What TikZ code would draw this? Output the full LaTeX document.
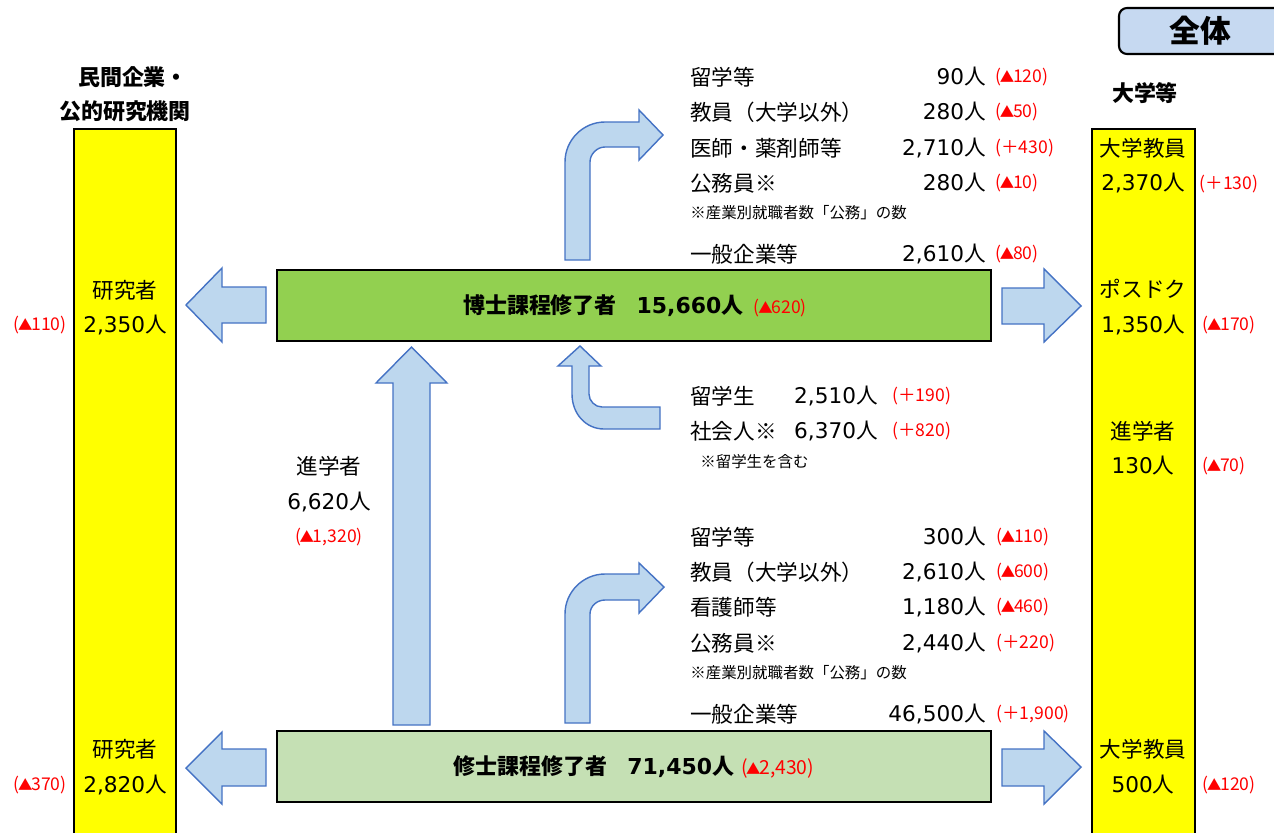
\documentclass[tikz,border=0pt]{standalone}
\usepackage{fontspec}
\setmainfont{Noto Sans CJK JP}
\newfontfamily\lat{DejaVu Sans}
\definecolor{arrfill}{HTML}{BDD7EE}
\definecolor{arrline}{HTML}{4472C4}
\definecolor{dgreen}{HTML}{92D050}
\definecolor{lgreen}{HTML}{C5E0B4}
\definecolor{ybar}{HTML}{FFFF00}
\definecolor{zbox}{HTML}{C6D9F1}
\definecolor{rtext}{HTML}{FF0000}
\newcommand\nm[1]{{\lat #1}}
\newcommand\tri{{\hspace{-0.08em}\fontsize{8.2}{8}\selectfont ▲\hspace{-0.08em}}}
\tikzset{
 t/.style={inner sep=0pt, font=\fontsize{12.3}{14}\selectfont},
 tb/.style={inner sep=0pt, font=\fontsize{12.5}{15}\selectfont\bfseries},
 rd/.style={inner sep=0pt, text=rtext, font=\fontsize{10}{11}\selectfont},
 nt/.style={inner sep=0pt, font=\fontsize{8.8}{10}\selectfont},
 blk/.style={fill=arrfill, draw=arrline, line width=0.8pt, line join=miter},
 bar/.style={fill=ybar, draw=black, line width=1.2pt},
 gbox/.style={draw=black, line width=1.2pt},
}
\begin{document}
\begin{tikzpicture}[x=0.02cm,y=-0.02cm]
\clip (0,0) rectangle (1274,832);
\fill[white] (0,0) rectangle (1274,832);

% overall label
\draw[fill=zbox, line width=1.2pt, rounded corners=0.16cm] (1119,8) rectangle (1320,54);
\node[inner sep=0pt, font=\fontsize{17.5}{20}\selectfont\bfseries] (zentai) at (1200,31) {全体};

% headers
\node[tb] (hL1) at (133,77) {民間企業・};
\node[tb] (hL2) at (125,111) {公的研究機関};
\node[tb] (hR) at (1145,93) {大学等};

% yellow bars
\draw[bar] (74,129) rectangle (176,860);
\draw[bar] (1092,129) rectangle (1195,860);

% main boxes
\draw[gbox, fill=dgreen] (277,270) rectangle (991,341);
\draw[gbox, fill=lgreen] (277,731) rectangle (991,802);
\node[inner sep=0pt] (hakase) at (635,306) {{\fontsize{12.5}{15}\selectfont\bfseries 博士課程修了者\hspace{0.9em}\nm{15,660}人}\hspace{0.6em}{\color{rtext}\fontsize{10}{11}\selectfont (\tri620)}};
\node[inner sep=0pt] (shushi) at (634,767) {{\fontsize{12.5}{15}\selectfont\bfseries 修士課程修了者\hspace{0.9em}\nm{71,450}人}\hspace{0.4em}{\color{rtext}\fontsize{11}{12}\selectfont (\tri2,430)}};

% block arrows
\draw[blk] (266,287) -- (222,287) -- (222,268) -- (186,305) -- (222,342) -- (222,323) -- (266,323) -- cycle;
\draw[blk] (266,749) -- (222,749) -- (222,732) -- (186,768) -- (222,804) -- (222,786) -- (266,786) -- cycle;
\draw[blk] (1002,288) -- (1044,288) -- (1044,269) -- (1081,306) -- (1044,342) -- (1044,324) -- (1002,324) -- cycle;
\draw[blk] (1002,749) -- (1044,749) -- (1044,731) -- (1081,767) -- (1044,804) -- (1044,786) -- (1002,786) -- cycle;
\draw[blk] (393,725) -- (393,383) -- (376,383) -- (411.5,347) -- (447,383) -- (430,383) -- (430,725) -- cycle;
\draw[blk] (565,260) -- (565,162) .. controls (565,140) and (583,122) .. (605,122) -- (639,122) -- (639,110) -- (663,135) -- (639,160) -- (639,147) -- (605,147) .. controls (597,147) and (590,154) .. (590,162) -- (590,260) -- cycle;
\draw[blk] (565,723) -- (565,614) .. controls (565,592) and (583,574) .. (605,574) -- (639,574) -- (639,563) -- (664,587) -- (639,613) -- (639,600) -- (605,600) .. controls (597,600) and (590,606) .. (590,614) -- (590,723) -- cycle;
\draw[blk] (660,407) -- (602,407) .. controls (595,407) and (589,401) .. (589,394) -- (589,366) -- (601,366) -- (580,346) -- (558,366) -- (572,366) -- (572,394) .. controls (572,414) and (586,429) .. (604,429) -- (660,429) -- cycle;

% left bar texts
\node[t] (lr1) at (125,290) {研究者};
\node[t] (ln1) at (125,325) {\nm{2,350}人};
\node[rd] (lc1) at (40,325) {(\tri110)};
\node[t] (lr2) at (125,749) {研究者};
\node[t] (ln2) at (125,785) {\nm{2,820}人};
\node[rd] (lc2) at (40,785) {(\tri370)};

% right bar texts
\node[t] (r1a) at (1143,148) {大学教員};
\node[t] (r1b) at (1143,183) {\nm{2,370}人};
\node[rd] (r1c) at (1229,184) {(＋130)};
\node[t] (r2a) at (1143,289) {ポスドク};
\node[t] (r2b) at (1143,325) {\nm{1,350}人};
\node[rd] (r2c) at (1229,325) {(\tri170)};
\node[t] (r3a) at (1143,431) {進学者};
\node[t] (r3b) at (1143,466) {\nm{130}人};
\node[rd] (r3c) at (1224,466) {(\tri70)};
\node[t] (r4a) at (1143,749) {大学教員};
\node[t] (r4b) at (1143,785) {\nm{500}人};
\node[rd] (r4c) at (1229,785) {(\tri120)};

% upper list
\node[t, anchor=west] (a1) at (690,77) {留学等};
\node[t, anchor=east] (a1n) at (986,77) {\nm{90}人};
\node[rd, anchor=west] (a1c) at (995,77) {(\tri120)};
\node[t, anchor=west] (a2) at (690,112) {教員（大学以外）};
\node[t, anchor=east] (a2n) at (986,112) {\nm{280}人};
\node[rd, anchor=west] (a2c) at (995,112) {(\tri50)};
\node[t, anchor=west] (a3) at (690,148) {医師・薬剤師等};
\node[t, anchor=east] (a3n) at (986,148) {\nm{2,710}人};
\node[rd, anchor=west] (a3c) at (995,148) {(＋430)};
\node[t, anchor=west] (a4) at (690,183) {公務員※};
\node[t, anchor=east] (a4n) at (986,183) {\nm{280}人};
\node[rd, anchor=west] (a4c) at (995,183) {(\tri10)};
\node[nt, anchor=west] (a5) at (690,213) {※産業別就職者数「公務」の数};
\node[t, anchor=west] (a6) at (690,254) {一般企業等};
\node[t, anchor=east] (a6n) at (986,254) {\nm{2,610}人};
\node[rd, anchor=west] (a6c) at (995,254) {(\tri80)};

% inflow
\node[t, anchor=west] (m1) at (690,396) {留学生};
\node[t, anchor=east] (m1n) at (878,396) {\nm{2,510}人};
\node[rd, anchor=west] (m1c) at (892,396) {(＋190)};
\node[t, anchor=west] (m2) at (690,431) {社会人※};
\node[t, anchor=east] (m2n) at (878,431) {\nm{6,370}人};
\node[rd, anchor=west] (m2c) at (892,431) {(＋820)};
\node[nt, anchor=west] (m3) at (700,462) {※留学生を含む};

% progression
\node[t] (s1) at (329,466) {進学者};
\node[t] (s2) at (329,502) {\nm{6,620}人};
\node[rd] (s3) at (329,537) {(\tri1,320)};

% lower list
\node[t, anchor=west] (b1) at (690,537) {留学等};
\node[t, anchor=east] (b1n) at (986,537) {\nm{300}人};
\node[rd, anchor=west] (b1c) at (996,537) {(\tri110)};
\node[t, anchor=west] (b2) at (690,572) {教員（大学以外）};
\node[t, anchor=east] (b2n) at (986,572) {\nm{2,610}人};
\node[rd, anchor=west] (b2c) at (996,572) {(\tri600)};
\node[t, anchor=west] (b3) at (690,607) {看護師等};
\node[t, anchor=east] (b3n) at (986,607) {\nm{1,180}人};
\node[rd, anchor=west] (b3c) at (996,607) {(\tri460)};
\node[t, anchor=west] (b4) at (690,643) {公務員※};
\node[t, anchor=east] (b4n) at (986,643) {\nm{2,440}人};
\node[rd, anchor=west] (b4c) at (996,643) {(＋220)};
\node[nt, anchor=west] (b5) at (690,673) {※産業別就職者数「公務」の数};
\node[t, anchor=west] (b6) at (690,714) {一般企業等};
\node[t, anchor=east] (b6n) at (986,714) {\nm{46,500}人};
\node[rd, anchor=west] (b6c) at (996,714) {(＋1,900)};
\end{tikzpicture}
\end{document}
